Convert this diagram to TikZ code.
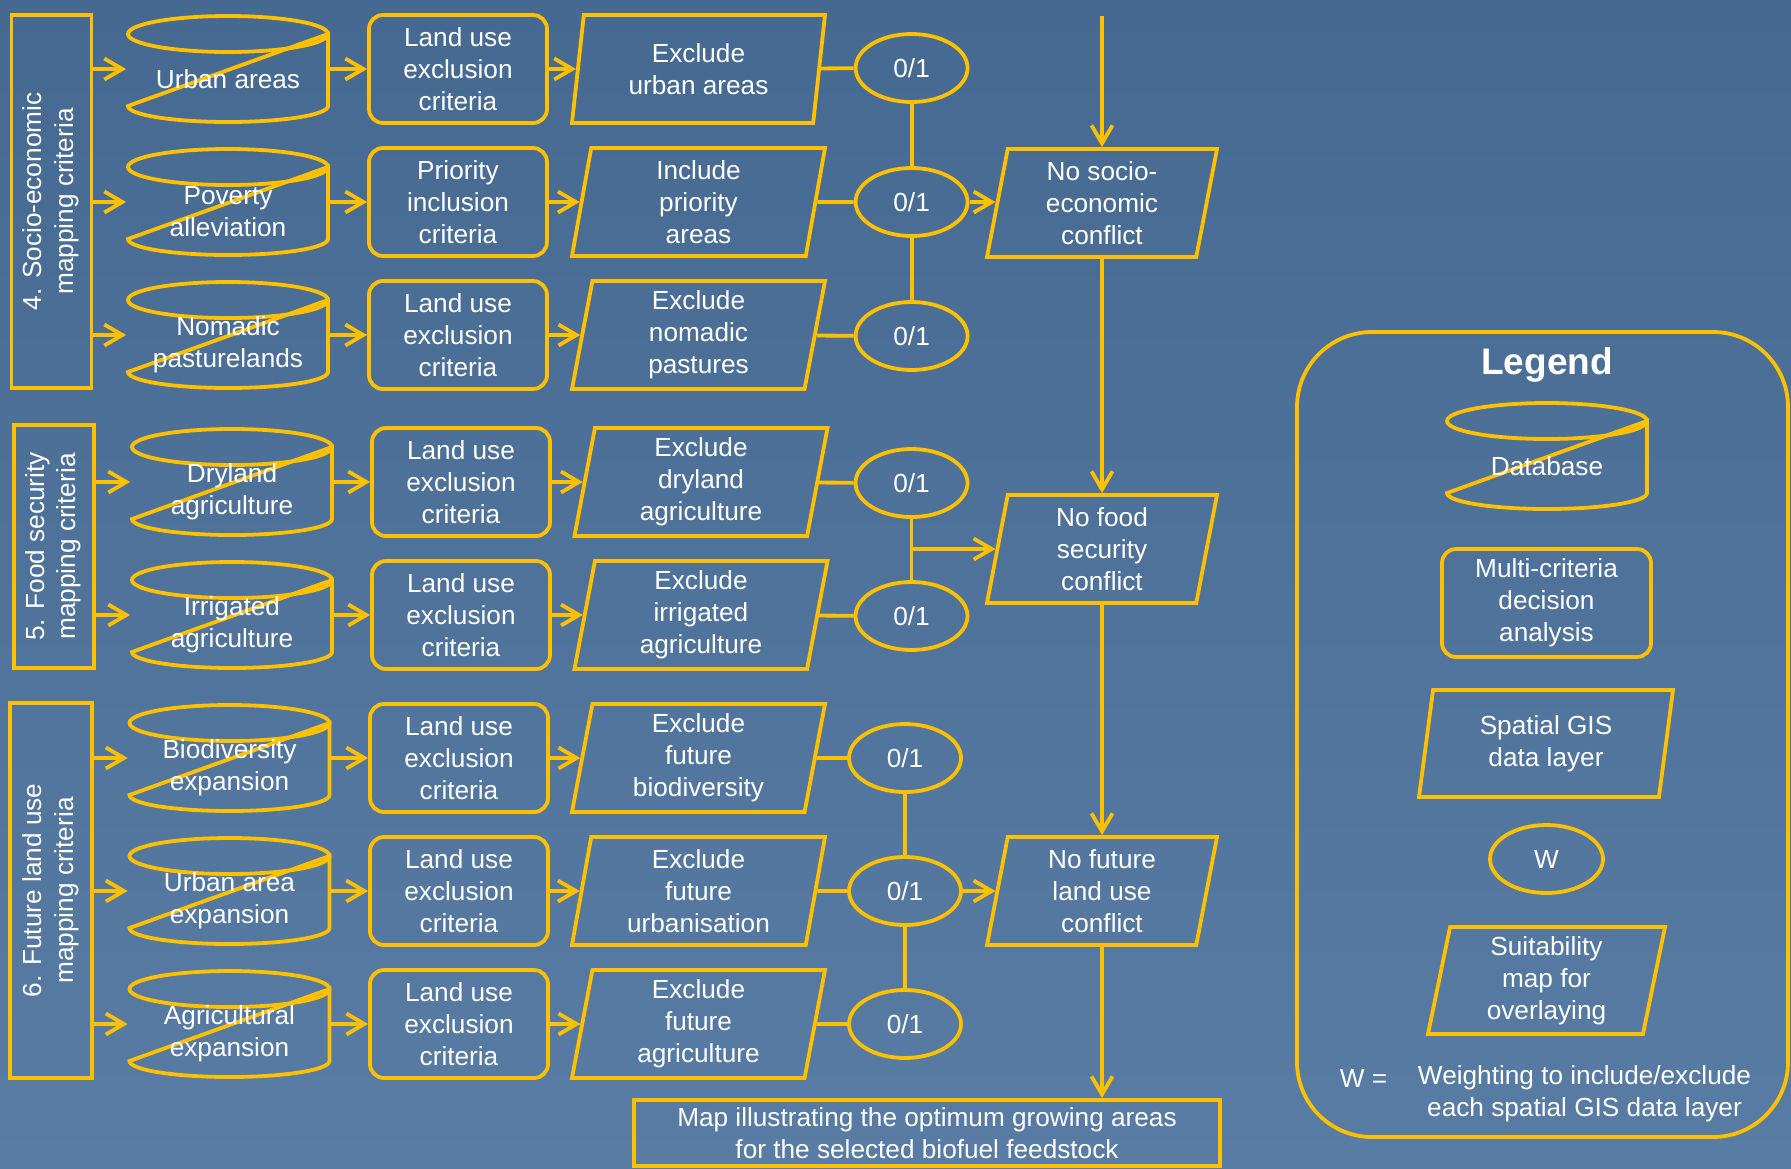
\documentclass[tikz,border=0pt]{standalone}
\usepackage{fontspec}
\setmainfont{Liberation Sans}
\usepackage{graphicx}
\usepackage{tikz}
\usetikzlibrary{shapes.geometric,arrows.meta}

\definecolor{ylw}{RGB}{255,192,0}
\definecolor{bgtop}{RGB}{70,105,145}
\definecolor{bgbot}{RGB}{88,124,164}
\newcommand{\fsz}{\fontsize{26.2}{32}\selectfont}

\begin{document}
\begin{tikzpicture}[x=1pt,y=1pt,yscale=-1,xscale=1,line width=3.8pt,
  every node/.style={text=white,inner sep=0pt,align=center,font=\fsz},
  arr/.style={draw=ylw,-{Straight Barb[length=18pt,width=21pt]}},
  lnk/.style={draw=ylw},
  panel/.style={draw=ylw,minimum width=80pt,minimum height=#1},
  can/.style={minimum width=200pt,minimum height=108pt},
  canlab/.style={yshift=-10pt},
  crit/.style={draw=ylw,rounded corners=14pt,minimum width=178pt,minimum height=108pt},
  layer/.style={draw=ylw,trapezium,trapezium left angle=77,trapezium right angle=103,trapezium stretches body,minimum width=#1,minimum height=108pt},
  weight/.style={draw=ylw,ellipse,minimum width=112pt,minimum height=68pt},
  pics/drum/.style={code={
    \draw[ylw] (0,35) ellipse[x radius=#1,y radius=18];
    \draw[ylw] (#1,35) -- (-#1,-37) arc[start angle=180,end angle=360,x radius=#1,y radius=16] -- cycle;
  }}
]
%Background
\useasboundingbox (0,0) rectangle (1791,1168);
\shade[top color=bgtop,bottom color=bgbot] (0,0) rectangle (1791,1168);

%Shape: Panels
\node[panel=373pt] (p4) at (51.5,201.5) {\rotatebox{90}{\begin{tabular}{@{}c@{}}4. Socio-economic\\mapping criteria\end{tabular}}};
\node[panel=243pt] (p5) at (53.6,546.5) {\rotatebox{90}{\begin{tabular}{@{}c@{}}5. Food security\\mapping criteria\end{tabular}}};
\node[panel=375pt,minimum width=82pt] (p6) at (50.7,890.5) {\rotatebox{90}{\begin{tabular}{@{}c@{}}6. Future land use\\mapping criteria\end{tabular}}};

%Row: urban areas
\pic at (228,69) {drum=100};
\node[can,label={[canlab]center:Urban areas}] (db1) at (228,69) {};
\node[crit] (mc1) at (458,69) {Land use\\exclusion\\criteria};
\node[layer=253pt] (ly1) at (698.5,69) {Exclude\\urban areas};
\node[weight] (wt1) at (911.6,68) {0/1};
%Row: poverty
\pic at (228,202) {drum=100};
\node[can,label={[canlab]center:Poverty\\alleviation}] (db2) at (228,202) {};
\node[crit] (mc2) at (458,202) {Priority\\inclusion\\criteria};
\node[layer=253pt] (ly2) at (698.5,202) {Include\\priority\\areas};
\node[weight] (wt2) at (911.6,202) {0/1};
%Row: nomadic
\pic at (228,335) {drum=100};
\node[can,label={[canlab]center:Nomadic\\pasturelands}] (db3) at (228,335) {};
\node[crit] (mc3) at (458,335) {Land use\\exclusion\\criteria};
\node[layer=253pt] (ly3) at (698.5,335) {Exclude\\nomadic\\pastures};
\node[weight] (wt3) at (911.6,336) {0/1};
%Row: dryland
\pic at (232,482) {drum=100};
\node[can,label={[canlab]center:Dryland\\agriculture}] (db4) at (232,482) {};
\node[crit] (mc4) at (461,482) {Land use\\exclusion\\criteria};
\node[layer=253pt] (ly4) at (701,482) {Exclude\\dryland\\agriculture};
\node[weight] (wt4) at (911.5,483) {0/1};
%Row: irrigated
\pic at (232,615) {drum=100};
\node[can,label={[canlab]center:Irrigated\\agriculture}] (db5) at (232,615) {};
\node[crit] (mc5) at (461,615) {Land use\\exclusion\\criteria};
\node[layer=253pt] (ly5) at (701,615) {Exclude\\irrigated\\agriculture};
\node[weight] (wt5) at (911.5,616) {0/1};
%Row: biodiversity
\pic at (229.5,758) {drum=100};
\node[can,label={[canlab]center:Biodiversity\\expansion}] (db6) at (229.5,758) {};
\node[crit] (mc6) at (459,758) {Land use\\exclusion\\criteria};
\node[layer=253pt] (ly6) at (698.5,758) {Exclude\\future\\biodiversity};
\node[weight] (wt6) at (905,758) {0/1};
%Row: urban expansion
\pic at (229.5,891) {drum=100};
\node[can,label={[canlab]center:Urban area\\expansion}] (db7) at (229.5,891) {};
\node[crit] (mc7) at (459,891) {Land use\\exclusion\\criteria};
\node[layer=253pt] (ly7) at (698.5,891) {Exclude\\future\\urbanisation};
\node[weight] (wt7) at (905,891) {0/1};
%Row: agricultural expansion
\pic at (229.5,1024) {drum=100};
\node[can,label={[canlab]center:Agricultural\\expansion}] (db8) at (229.5,1024) {};
\node[crit] (mc8) at (459,1024) {Land use\\exclusion\\criteria};
\node[layer=253pt] (ly8) at (698.5,1024) {Exclude\\future\\agriculture};
\node[weight] (wt8) at (905,1024) {0/1};

%Shape: Results
\node[layer=230pt,trapezium left angle=76,trapezium right angle=104] (nse) at (1102,203) {No socio-\\economic\\conflict};
\node[layer=230pt,trapezium left angle=76,trapezium right angle=104] (nfs) at (1102,549) {No food\\security\\conflict};
\node[layer=230pt,trapezium left angle=76,trapezium right angle=104] (nfl) at (1102,891) {No future\\land use\\conflict};
\node[draw=ylw,minimum width=586pt,minimum height=66pt] (map) at (927,1133) {Map illustrating the optimum growing areas\\for the selected biofuel feedstock};
\coordinate (feed) at (1102,16);

%Straight Lines: panels to databases
\draw[arr] (p4.east |- db1) -- (db1);
\draw[arr] (p4.east |- db2) -- (db2);
\draw[arr] (p4.east |- db3) -- (db3);
\draw[arr] (p5.east |- db4) -- (db4);
\draw[arr] (p5.east |- db5) -- (db5);
\draw[arr] (p6.east |- db6) -- (db6);
\draw[arr] (p6.east |- db7) -- (db7);
\draw[arr] (p6.east |- db8) -- (db8);

%Straight Lines: rows
\draw[arr] (db1) -- (mc1);  \draw[arr] (mc1) -- (ly1);  \draw[lnk] (ly1) -- (wt1);
\draw[arr] (db2) -- (mc2);  \draw[arr] (mc2) -- (ly2);  \draw[lnk] (ly2) -- (wt2);
\draw[arr] (db3) -- (mc3);  \draw[arr] (mc3) -- (ly3);  \draw[lnk] (ly3) -- (wt3);
\draw[arr] (db4) -- (mc4);  \draw[arr] (mc4) -- (ly4);  \draw[lnk] (ly4) -- (wt4);
\draw[arr] (db5) -- (mc5);  \draw[arr] (mc5) -- (ly5);  \draw[lnk] (ly5) -- (wt5);
\draw[arr] (db6) -- (mc6);  \draw[arr] (mc6) -- (ly6);  \draw[lnk] (ly6) -- (wt6);
\draw[arr] (db7) -- (mc7);  \draw[arr] (mc7) -- (ly7);  \draw[lnk] (ly7) -- (wt7);
\draw[arr] (db8) -- (mc8);  \draw[arr] (mc8) -- (ly8);  \draw[lnk] (ly8) -- (wt8);

%Straight Lines: weights
\draw[lnk] (wt1) -- (wt2);
\draw[lnk] (wt2) -- (wt3);
\draw[arr] (wt2) -- (wt2 -| nse.west);
\draw[lnk] (wt4) -- (wt5);
\draw[arr] (wt4 |- nfs) -- (nfs);
\draw[lnk] (wt6) -- (wt7);
\draw[lnk] (wt7) -- (wt8);
\draw[arr] (wt7) -- (nfl);

%Straight Lines: main stem
\draw[arr] (feed) -- (nse);
\draw[arr] (nse) -- (nfs);
\draw[arr] (nfs) -- (nfl);
\draw[arr] (nfl) -- (nfl |- map.north);

%Legend
\node[draw=ylw,rounded corners=75pt,minimum width=491pt,minimum height=805pt] (lgd) at (1542.5,734.5) {};
\node[font=\bfseries\fontsize{37}{40}\selectfont] (lgdtitle) at (1547,365) {Legend};
\pic at (1547,456) {drum=100};
\node[can,label={[canlab]center:Database}] (lgddb) at (1547,456) {};
\node[crit,minimum width=209pt] (lgdmc) at (1546.5,603) {Multi-criteria\\decision\\analysis};
\node[layer=254pt,trapezium left angle=76,trapezium right angle=104,minimum height=107pt] (lgdly) at (1546,743.5) {Spatial GIS\\data layer};
\node[weight,minimum width=113pt] (lgdwt) at (1546.5,859) {W};
\node[layer=237pt,trapezium left angle=76,trapezium right angle=104,minimum height=107pt] (lgdmap) at (1546.5,980.5) {Suitability\\map for\\overlaying};
\node (weq) at (1363.5,1078) {W =};
\node (wdef) at (1584.5,1094) {Weighting to include/exclude\\each spatial GIS data layer};

\end{tikzpicture}
\end{document}
